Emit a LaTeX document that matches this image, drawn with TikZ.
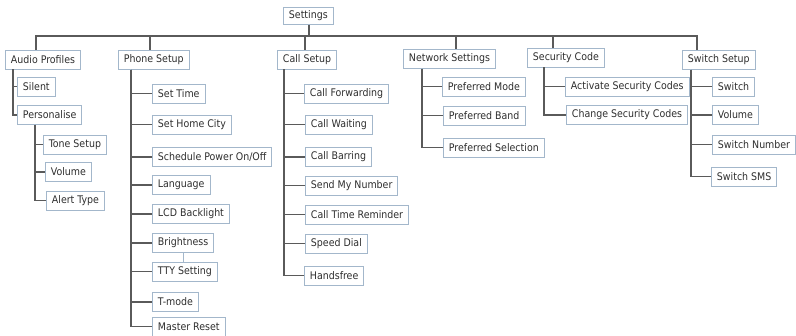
\documentclass[tikz,border=0pt]{standalone}
\usepackage{fontspec}
\setmainfont{DejaVu Sans Condensed}
\definecolor{boxc}{HTML}{A3B7CB}
\definecolor{linec}{HTML}{5A5A5A}
\definecolor{txt}{HTML}{2E2E2E}
\tikzset{
  box/.style={draw=boxc, fill=white, line width=0.9pt, inner xsep=5.5pt, inner ysep=0pt,
    minimum height=19pt, anchor=west, text=txt, font=\fontsize{10.5}{12}\selectfont},
  link/.style={draw=linec, line width=1.3pt},
  faint/.style={draw=boxc, line width=0.8pt}
}
\begin{document}
\begin{tikzpicture}[x=1pt,y=-1pt]
\useasboundingbox[fill=white] (0,0) rectangle (796,336);
% root
\node[box, minimum height=17pt] (set) at (283,16) {Settings};
% level 1
\node[box] (ap) at (5,59.5) {Audio Profiles};
\node[box] (ps) at (118,60) {Phone Setup};
\node[box] (cs) at (277,59.5) {Call Setup};
\node[box] (ns) at (403,59) {Network Settings};
\node[box] (sc) at (527,57.5) {Security Code};
\node[box] (sw) at (682,60) {Switch Setup};
% audio profiles
\node[box] (silent) at (17,86.5) {Silent};
\node[box] (pers) at (17,115) {Personalise};
\node[box] (tone) at (43,144.5) {Tone Setup};
\node[box] (vol1) at (45,172) {Volume};
\node[box] (alert) at (46,200.5) {Alert Type};
% phone setup
\node[box] (stime) at (152,93.5) {Set Time};
\node[box] (shc) at (152,124.5) {Set Home City};
\node[box] (spo) at (152,157) {Schedule Power On/Off};
\node[box] (lang) at (152,185) {Language};
\node[box] (lcd) at (152,214) {LCD Backlight};
\node[box] (bright) at (152,243) {Brightness};
\node[box] (tty) at (152,271.5) {TTY Setting};
\node[box] (tmode) at (152,302) {T-mode};
\node[box] (mreset) at (152,326.5) {Master Reset};
% call setup
\node[box] (cf) at (304,93.5) {Call Forwarding};
\node[box] (cw) at (305,124.5) {Call Waiting};
\node[box] (cb) at (305,157) {Call Barring};
\node[box] (smn) at (305,185.5) {Send My Number};
\node[box] (ctr) at (305,214.5) {Call Time Reminder};
\node[box] (sd) at (305,243.5) {Speed Dial};
\node[box] (hf) at (304,275.5) {Handsfree};
% network settings
\node[box] (pm) at (442,86.5) {Preferred Mode};
\node[box] (pb) at (443,115.5) {Preferred Band};
\node[box] (psel) at (443,147.5) {Preferred Selection};
% security code
\node[box] (asc) at (565,86.5) {Activate Security Codes};
\node[box] (csc) at (566,115) {Change Security Codes};
% switch setup
\node[box] (swi) at (712,86.5) {Switch};
\node[box] (vol2) at (712,115) {Volume};
\node[box] (swn) at (712,144.5) {Switch Number};
\node[box] (sms) at (711,176.5) {Switch SMS};
% bus
\coordinate (bus) at (309,36);
\draw[link] (set.south -| bus) -- (bus);
\draw[link] ([xshift=31pt]ap.north west) |- (bus) -| ([xshift=15pt]sw.north west);
\draw[link] ([xshift=32pt]ps.north west) -- ([xshift=32pt]ps.north west |- bus);
\draw[link] ([xshift=28pt]cs.north west) -- ([xshift=28pt]cs.north west |- bus);
\draw[link] ([xshift=53pt]ns.north west) -- ([xshift=53pt]ns.north west |- bus);
\draw[link] ([xshift=26pt]sc.north west) -- ([xshift=26pt]sc.north west |- bus);
% audio profiles children
\foreach \c in {silent,pers} \draw[link] ([xshift=8pt]ap.south west) |- (\c.west);
\foreach \c in {tone,vol1,alert} \draw[link] ([xshift=18pt]pers.south west) |- (\c.west);
% phone setup children
\foreach \c in {stime,shc,spo,lang,lcd,bright,tty,tmode,mreset} \draw[link] ([xshift=13pt]ps.south west) |- (\c.west);
\draw[faint] ([xshift=31pt]bright.south west) -- ([xshift=31pt]tty.north west);
% call setup children
\foreach \c in {cf,cw,cb,smn,ctr,sd,hf} \draw[link] ([xshift=7pt]cs.south west) |- (\c.west);
% network children
\foreach \c in {pm,pb,psel} \draw[link] ([xshift=19pt]ns.south west) |- (\c.west);
% security children
\foreach \c in {asc,csc} \draw[link] ([xshift=17pt]sc.south west) |- (\c.west);
% switch children
\foreach \c in {swi,vol2,swn,sms} \draw[link] ([xshift=9pt]sw.south west) |- (\c.west);
\end{tikzpicture}
\end{document}
